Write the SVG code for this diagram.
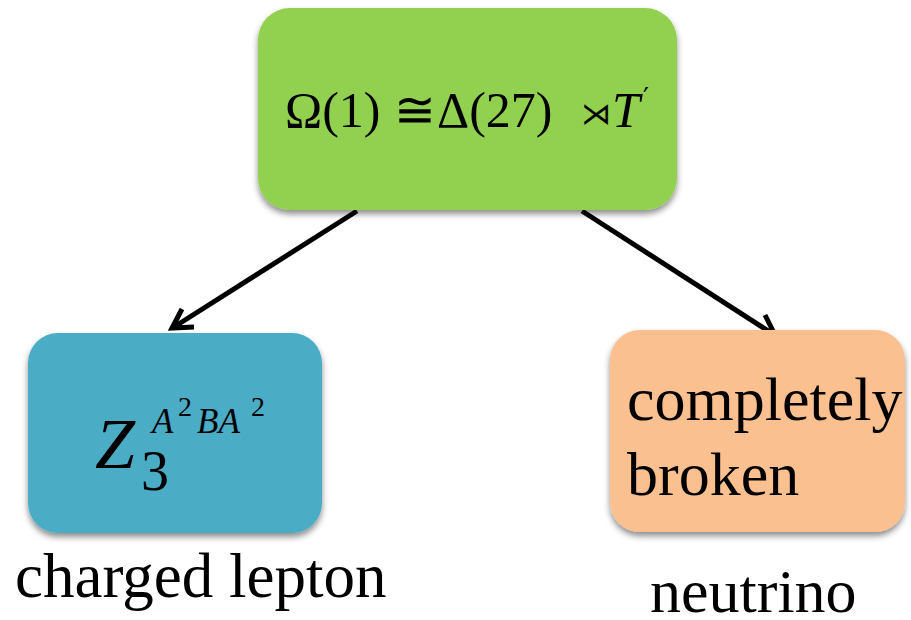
<svg xmlns="http://www.w3.org/2000/svg" width="911" height="620" viewBox="0 0 911 620">
<defs>
<filter id="sh" x="-10%" y="-10%" width="120%" height="125%">
<feDropShadow dx="0" dy="4" stdDeviation="3" flood-color="#000" flood-opacity="0.45"/>
</filter>
</defs>
<rect width="911" height="620" fill="#fff"/>
<g id="connectors" stroke="#000" stroke-width="5" fill="none">
<path d="M357,211 L174,327"/>
<path d="M194,327 L172,328 L182,309"/>
<path d="M582,211 L773,334"/>
<path d="M765,315 L775,335 L753,334"/>
</g>
<g id="omega">
<rect x="258" y="8" width="419" height="202" rx="32" fill="#92D050" filter="url(#sh)"/>
<text font-family="Liberation Serif" font-size="50" x="285" y="127">Ω(1)</text>
<text font-family="Liberation Serif" font-size="50" x="394" y="127">≅</text>
<text font-family="Liberation Serif" font-size="50" x="437" y="127">Δ(27)</text>
<text font-family="DejaVu Sans" font-size="30" x="581" y="124">⋊</text>
<text font-family="Liberation Serif" font-size="50" x="612" y="127" font-style="italic">T</text>
<text font-family="DejaVu Serif" font-size="26" x="643" y="106">′</text>
</g>
<g id="charged">
<rect x="28" y="333" width="294" height="200" rx="30" fill="#4BACC6" filter="url(#sh)"/>
<text font-family="Liberation Serif" font-style="italic" font-size="72" x="95" y="468">Z</text>
<text font-family="Liberation Serif" font-size="56" x="141" y="490">3</text>
<text font-family="Liberation Serif" font-style="italic" font-size="35" x="152" y="433">A</text>
<text font-family="Liberation Serif" font-size="28" x="178" y="416">2</text>
<text font-family="Liberation Serif" font-style="italic" font-size="35" x="197" y="433">BA</text>
<text font-family="Liberation Serif" font-size="28" x="251" y="416">2</text>
</g>
<g id="neutrino">
<rect x="610" y="330" width="295" height="202" rx="30" fill="#FAC090" filter="url(#sh)"/>
<text font-family="Liberation Serif" font-size="62" x="627" y="420">completely</text>
<text font-family="Liberation Serif" font-size="62" x="627" y="495">broken</text>
</g>
<g id="labels">
<text font-family="Liberation Serif" font-size="63" x="15" y="597">charged lepton</text>
<text font-family="Liberation Serif" font-size="62" x="650" y="612">neutrino</text>
</g>
</svg>
